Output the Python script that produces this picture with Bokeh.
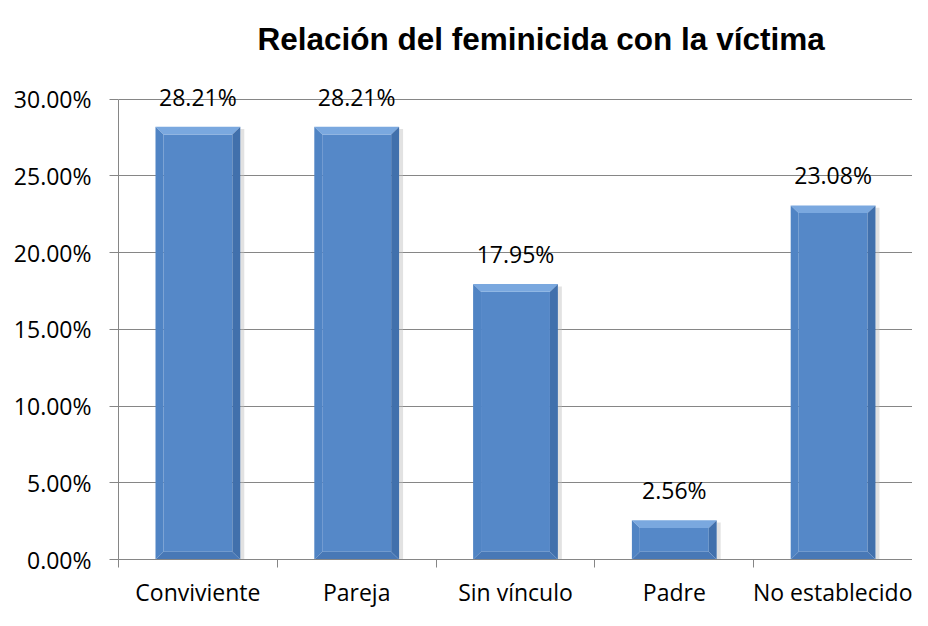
from bokeh.plotting import figure
from bokeh.models import Range1d, FixedTicker, PrintfTickFormatter, ColumnDataSource
from bokeh.embed import file_html
from bokeh.resources import INLINE

categories = ["Conviviente", "Pareja", "Sin vínculo", "Padre", "No establecido"]
values = [28.21, 28.21, 17.95, 2.56, 23.08]
y_ticks = [0, 5, 10, 15, 20, 25, 30]
title_text = "Relación del feminicida con la víctima"

FONT = "Open Sans"
n = len(categories)
centers = [i + 0.5 for i in range(n)]

W, H = 912, 610
top_b, bot_b = 73, 48
y30_px = 97  # desired pixel position of the 30% line
frame_bottom = H - bot_b
y_end = 30 * (frame_bottom - top_b) / (frame_bottom - y30_px)

p = figure(width=W, height=H, output_backend="svg", toolbar_location=None,
           x_range=Range1d(0, n), y_range=Range1d(0, y_end),
           min_border_left=118, min_border_right=0, min_border_top=top_b, min_border_bottom=bot_b)
p.outline_line_color = None
p.background_fill_color = "white"
p.border_fill_color = "white"

# title
p.title.text = title_text
p.title.align = "left"
p.title.offset = 139
p.title.standoff = 37
p.title.text_font = "Liberation Sans"
p.title.text_font_style = "bold"
p.title.text_font_size = "31.5px"
p.title.text_color = "black"

# grid
p.xgrid.grid_line_color = None
p.ygrid.grid_line_color = "#868686"
p.ygrid.grid_line_width = 1
p.ygrid.ticker = FixedTicker(ticks=y_ticks)

# y axis
p.yaxis.ticker = FixedTicker(ticks=y_ticks)
p.yaxis.bounds = (0, 30)
p.yaxis.formatter = PrintfTickFormatter(format="%.2f%%")
p.yaxis.axis_line_color = "#868686"
p.yaxis.major_tick_line_color = "#868686"
p.yaxis.major_tick_out = 9
p.yaxis.major_tick_in = 0
p.yaxis.minor_tick_line_color = None
p.yaxis.major_label_text_font = FONT
p.yaxis.major_label_text_font_size = "23px"
p.yaxis.major_label_text_color = "black"
p.yaxis.major_label_standoff = 18

# x axis
p.xaxis.ticker = FixedTicker(ticks=centers, minor_ticks=list(range(n + 1)))
p.xaxis.major_label_overrides = {c: lab for c, lab in zip(centers, categories)}
p.xaxis.axis_line_color = "#868686"
p.xaxis.major_tick_line_color = None
p.xaxis.minor_tick_line_color = "#868686"
p.xaxis.minor_tick_out = 8
p.xaxis.minor_tick_in = 0
p.xaxis.major_label_text_font = FONT
p.xaxis.major_label_text_font_size = "23px"
p.xaxis.major_label_text_color = "black"
p.xaxis.major_label_standoff = 8

# bars with bevel effect
hw = 0.267
bx = 0.05   # bevel in x (category units)
by = 0.5    # bevel in y (data units)

# shadow
p.quad(left=[c + hw for c in centers], right=[c + hw + 0.025 for c in centers],
       bottom=[0] * n, top=[v - 0.15 for v in values],
       fill_color="#bfbfbf", fill_alpha=0.45, line_color=None)

top_xs, top_ys, left_xs, left_ys, right_xs, right_ys, bot_xs, bot_ys = [], [], [], [], [], [], [], []
face_l, face_r, face_b, face_t = [], [], [], []
for c, v in zip(centers, values):
    l, r = c - hw, c + hw
    b_in = min(by, v / 2)
    t_in = v - b_in
    top_xs.append([l, r, r - bx, l + bx]); top_ys.append([v, v, t_in, t_in])
    left_xs.append([l, l + bx, l + bx, l]); left_ys.append([v, t_in, b_in, 0])
    right_xs.append([r, r - bx, r - bx, r]); right_ys.append([v, t_in, b_in, 0])
    bot_xs.append([l, l + bx, r - bx, r]); bot_ys.append([0, b_in, b_in, 0])
    face_l.append(l + bx); face_r.append(r - bx); face_b.append(b_in); face_t.append(t_in)

p.quad(left=face_l, right=face_r, bottom=face_b, top=face_t, fill_color="#5588c8", line_color=None)
p.patches(top_xs, top_ys, fill_color="#7aa8df", line_color=None)
p.patches(left_xs, left_ys, fill_color="#5084c4", line_color=None)
p.patches(right_xs, right_ys, fill_color="#4170ac", line_color=None)
p.patches(bot_xs, bot_ys, fill_color="#4878b6", line_color=None)

# data labels
src = ColumnDataSource(dict(x=centers, y=values, t=["%.2f%%" % v for v in values]))
p.text(x="x", y="y", text="t", source=src, text_align="center", text_baseline="bottom",
       y_offset=-14, text_font={"value": FONT}, text_font_size={"value": "23px"}, text_color="black")

open("out.html", "w").write(file_html(p, INLINE))
